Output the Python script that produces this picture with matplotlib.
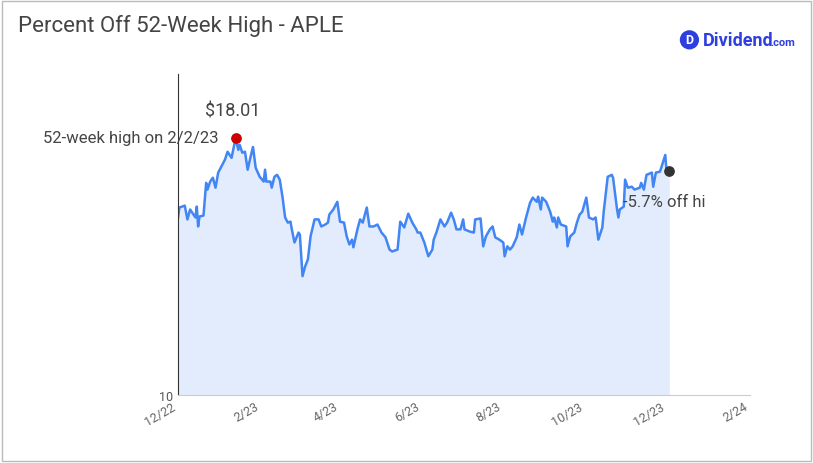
import datetime as dt
import matplotlib
matplotlib.use("Agg")
import matplotlib.pyplot as plt
from matplotlib.patches import Rectangle

plt.rcParams["font.family"] = ["Roboto", "DejaVu Sans"]

# days since 2022-12-01 and closing prices
days = [0, 1, 5, 7, 9, 13, 14, 15, 16, 19, 21, 22, 24, 26, 28, 30, 33, 35, 37, 40,
        43, 45, 46, 48, 50, 52, 54, 56, 58, 61, 64, 65, 66, 69, 70, 72, 74, 76, 78, 80,
        82, 84, 85, 87, 90, 91, 93, 95, 97, 99, 102, 105, 107, 110, 112, 113, 116, 119, 121, 124,
        126, 128, 130, 131, 134, 136, 138, 141, 143, 146, 149, 152, 155, 158, 160, 164, 166, 169, 172, 175,
        178, 179, 181, 184, 187, 190, 191, 193, 196, 199, 201, 204, 206, 208, 211, 213, 214, 218, 221, 222,
        226, 228, 230, 233, 235, 237, 240, 243, 244, 246, 248, 250, 253, 255, 257, 260, 263, 265, 268, 269,
        271, 272, 275, 278, 280, 281, 283, 284, 286, 290, 291, 293, 296, 298, 300, 302, 305, 307, 310, 312,
        314, 317, 318, 321, 324, 325, 328, 329, 330, 333, 334, 336, 339, 341, 345, 346, 348, 350, 354, 355,
        357, 360, 361, 364, 365, 367]
prices = [15.53, 15.84, 15.90, 15.47, 15.78, 15.53, 15.87, 15.25, 15.56, 15.59, 16.61, 16.40, 16.65, 16.77, 16.46, 16.93, 17.17, 17.33, 17.58, 17.39,
          18.01, 17.64, 17.80, 17.55, 17.58, 17.02, 17.39, 17.73, 17.08, 16.80, 16.65, 17.02, 16.65, 16.65, 16.46, 16.80, 16.86, 16.71, 16.18, 15.53,
          15.37, 15.40, 15.16, 14.75, 15.06, 15.00, 13.70, 14.01, 14.22, 14.94, 15.47, 15.47, 15.25, 15.31, 15.37, 15.62, 15.78, 16.02, 15.40, 15.37,
          14.94, 14.69, 14.84, 14.60, 15.16, 15.47, 15.37, 15.84, 15.25, 15.25, 15.31, 15.06, 14.91, 14.53, 14.47, 14.53, 15.40, 15.22, 15.65, 15.37,
          15.16, 15.06, 15.06, 14.75, 14.32, 14.53, 14.84, 15.06, 15.47, 15.25, 15.37, 15.68, 15.47, 15.16, 15.16, 15.47, 15.16, 15.09, 15.06, 15.47,
          15.50, 14.63, 14.94, 15.16, 15.25, 14.91, 14.84, 14.75, 14.32, 14.63, 14.53, 14.63, 14.91, 15.31, 15.00, 15.53, 15.99, 16.15, 16.02, 16.18,
          15.78, 16.15, 16.02, 15.71, 15.40, 15.53, 15.22, 15.53, 15.31, 15.25, 14.63, 14.94, 15.06, 15.37, 15.62, 15.71, 16.15, 15.53, 15.47, 15.53,
          14.84, 15.22, 15.71, 16.80, 16.86, 16.77, 15.78, 15.53, 15.78, 15.87, 16.71, 16.46, 16.49, 16.40, 16.46, 16.61, 16.40, 16.86, 16.93, 16.49,
          16.93, 16.96, 17.08, 17.48, 16.96, 16.98]
tick_months = [(2022, 12), (2023, 2), (2023, 4), (2023, 6), (2023, 8), (2023, 10), (2023, 12), (2024, 2)]
tick_labels = ["12/22", "2/23", "4/23", "6/23", "8/23", "10/23", "12/23", "2/24"]

start = dt.date(2022, 12, 1)
dates = [start + dt.timedelta(days=d) for d in days]
hi_idx = prices.index(max(prices))

fig = plt.figure(figsize=(8.13, 4.64), dpi=100)
fig.patches.append(Rectangle((0.003, 0.004), 0.994, 0.992, transform=fig.transFigure,
                             fill=False, edgecolor="#bbbbbb", lw=1))
ax = fig.add_axes([0.219, 0.147, 0.703, 0.691])

ax.fill_between(dates, 10, prices, color="#e3ecfc", lw=0)
ax.plot(dates, prices, color="#4285f4", lw=1.8)
ax.scatter([dates[hi_idx]], [prices[hi_idx]], s=45, color="#cc0000", zorder=5)
ax.scatter([dates[-1]], [prices[-1]], s=45, color="#333333", zorder=5)

ax.annotate(f"${prices[hi_idx]:.2f}", (dates[hi_idx], prices[hi_idx]), xytext=(-22, 16),
            textcoords="offset points", fontsize=13, color="#444444")
ax.annotate("52-week high on 2/2/23", (dates[hi_idx], prices[hi_idx]), xytext=(-12, 0),
            textcoords="offset points", fontsize=12, color="#444444", ha="right", va="center")
pct = (prices[-1] / prices[hi_idx] - 1) * 100
ax.annotate(f"{pct:.1f}% off hi", (dates[-1], prices[-1]), xytext=(-33, -25),
            textcoords="offset points", fontsize=12, color="#444444")

ax.set_xlim(start, dt.date(2024, 2, 1))
ax.set_ylim(10, 20)
ax.set_yticks([10])
ax.set_yticklabels(["10"], fontsize=9, color="#555555")
ax.set_xticks([dt.date(y, m, 1) for y, m in tick_months])
ax.set_xticklabels(tick_labels, rotation=30, ha="right", fontsize=9, color="#666666")
ax.tick_params(length=0)
for s in ["top", "right"]:
    ax.spines[s].set_visible(False)
ax.spines["left"].set_color("#333333")
ax.spines["bottom"].set_color("#cccccc")

fig.text(0.022, 0.93, "Percent Off 52-Week High - APLE", fontsize=16, color="#444444")
fig.text(0.848, 0.912, "D", fontsize=9, color="white", weight="bold", ha="center", va="center",
         bbox=dict(boxstyle="circle,pad=0.25", fc="#2d3fe0", ec="none"))
fig.text(0.864, 0.912, "Dividend", fontsize=13, color="#2d3fe0", weight="bold", va="center")
fig.text(0.948, 0.908, ".com", fontsize=8, color="#2d3fe0", weight="bold", va="center")

fig.savefig("out.png", dpi=100)
